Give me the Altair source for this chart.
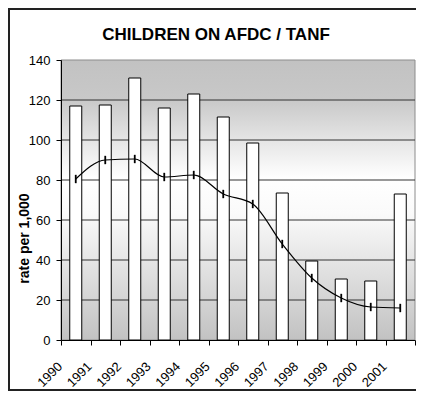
import altair as alt
import pandas as pd

# ---- data ----
years = ["1990", "1991", "1992", "1993", "1994", "1995",
         "1996", "1997", "1998", "1999", "2000", "2001"]
afdc_rate = [117, 117.5, 131, 116, 123, 111.5, 98.5, 73.5, 39.5, 30.5, 29.5, 73]
trend = [80.5, 90, 90.5, 81.5, 82.5, 73, 68, 48, 31, 21, 16.5, 16]
y_ticks = [0, 20, 40, 60, 80, 100, 120, 140]
grid_values = [20, 40, 60, 80, 100, 120]

FONT = "Liberation Sans"
W, H = 354, 280
PAD_L, PAD_T = 53, 52
SVG_W, SVG_H = 408, 383

df = pd.DataFrame({"year": years, "rate": afdc_rate, "trend": trend})
one = pd.DataFrame({"k": [0]})

y_scale = alt.Scale(domain=[0, 140], nice=False, zero=True)
y_axis = alt.Axis(
    values=y_ticks, tickSize=5, labelPadding=6, labelFont=FONT,
    labelFontSize=13, labelColor="black", tickColor="black",
    domainColor="black", grid=False, zindex=1,
    title="rate per 1,000", titleFont=FONT, titleFontSize=14,
    titleFontWeight="bold", titleColor="black", titleAngle=270,
    titleX=-32.5, titleY=178, titleAlign="center",
    titleBaseline="alphabetic",
)
x_enc = alt.X(
    "year:N",
    sort=years,
    scale=alt.Scale(paddingInner=0, paddingOuter=0),
    axis=alt.Axis(
        title=None, labelAngle=-45, labelAlign="right", labelBaseline="middle",
        labelOffset=-16, labelPadding=19, tickBand="extent", tickSize=5,
        tickColor="black", domainColor="black", labelColor="black",
        labelFont=FONT, labelFontSize=13, grid=False, zindex=1,
    ),
)

background = alt.Chart(one).mark_rect(
    fill=alt.LinearGradient(
        gradient="linear",
        stops=[
            alt.GradientStop(color="#c2c2c2", offset=0),
            alt.GradientStop(color="#c8c8c8", offset=0.14),
            alt.GradientStop(color="#ffffff", offset=0.42),
            alt.GradientStop(color="#fafafa", offset=0.55),
            alt.GradientStop(color="#c2c2c2", offset=1),
        ],
        x1=0, x2=0, y1=0, y2=1,
    ),
    stroke="#8c8c8c", strokeWidth=1,
).encode(x=alt.value(0), x2=alt.value(W), y=alt.value(0), y2=alt.value(H))

gridlines = alt.Chart(pd.DataFrame({"v": grid_values})).mark_rule(
    color="#333333", strokeWidth=1
).encode(y=alt.Y("v:Q", scale=y_scale, axis=y_axis))

bars = alt.Chart(df).mark_bar(
    size=12, fill="white", stroke="black", strokeWidth=1
).encode(x=x_enc, y=alt.Y("rate:Q", scale=y_scale, axis=y_axis))

line = alt.Chart(df).mark_line(
    color="black", strokeWidth=1.2, interpolate="monotone"
).encode(x=x_enc, y=alt.Y("trend:Q", scale=y_scale, axis=y_axis))

markers = alt.Chart(df).mark_point(
    shape="M0,-1L0,1", size=70, filled=False, stroke="black",
    strokeWidth=1.8, opacity=1
).encode(x=x_enc, y=alt.Y("trend:Q", scale=y_scale, axis=y_axis))

border = alt.Chart(one).mark_rect(
    fill="transparent", stroke="#222222", strokeWidth=2
).encode(
    x=alt.value(-PAD_L + 1), x2=alt.value(W + 40),
    y=alt.value(-PAD_T + 1), y2=alt.value(SVG_H - PAD_T - 1),
)

chart = alt.layer(background, gridlines, bars, line, markers, border).properties(
    width=W,
    height=H,
    autosize=alt.AutoSizeParams(type="none"),
    padding={"left": PAD_L, "top": PAD_T,
             "right": SVG_W - PAD_L - W, "bottom": SVG_H - PAD_T - H},
    title=alt.TitleParams(
        "CHILDREN ON AFDC / TANF", font=FONT, fontSize=17, fontWeight="bold",
        color="black", anchor="middle", frame="group", baseline="alphabetic",
        dx=-22, offset=-49,
    ),
).configure_view(strokeWidth=0)

chart.save("out.html", embed_options={"renderer": "svg", "actions": False})
